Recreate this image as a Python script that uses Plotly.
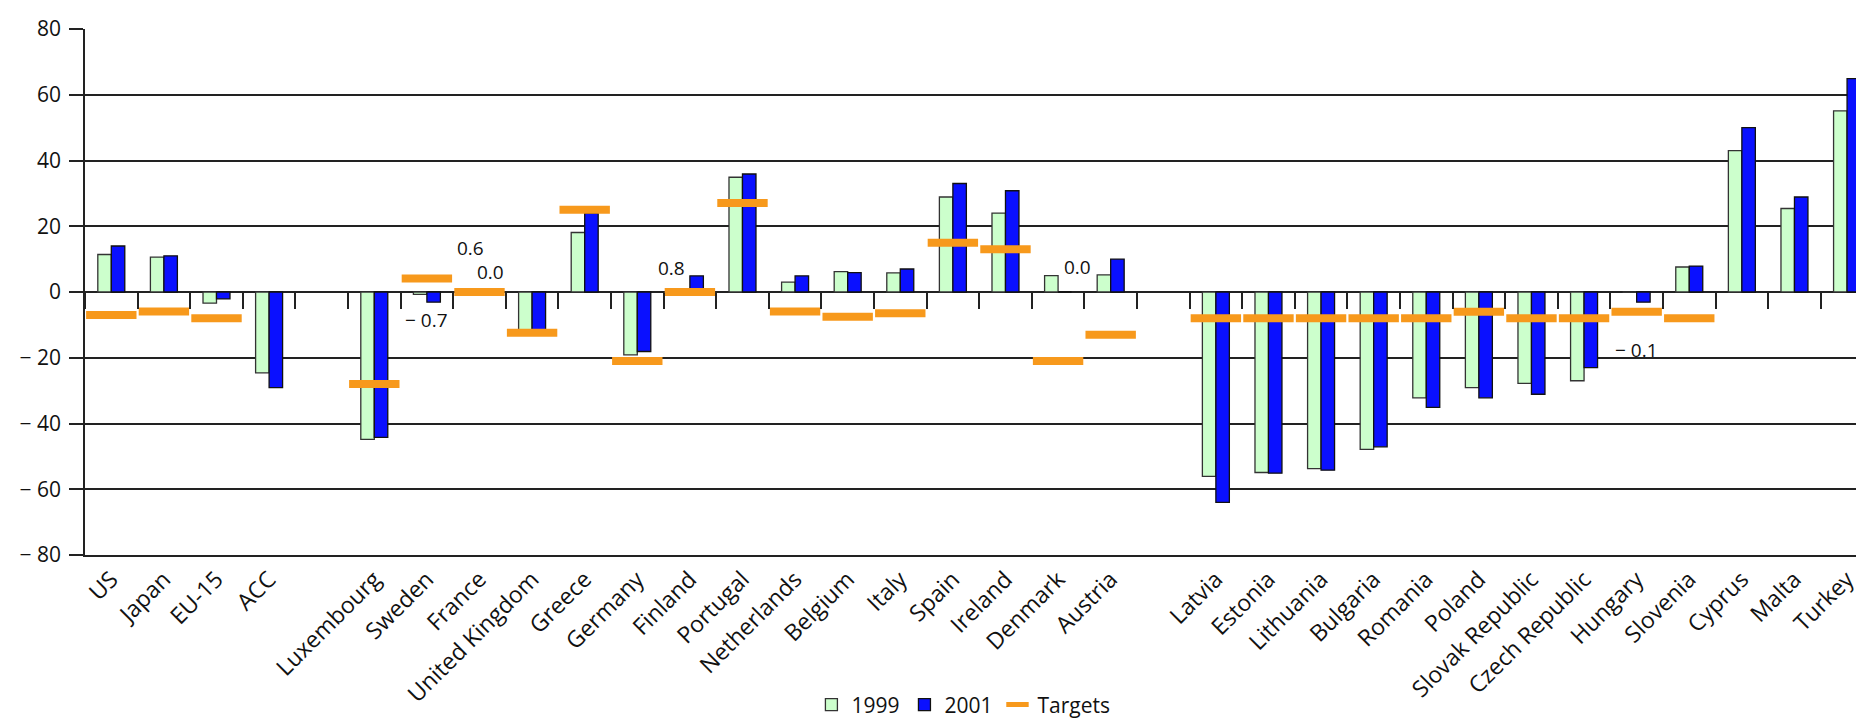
import plotly.graph_objects as go

# ---- data (None = empty separator slot / no value) ----
categories = ["US", "Japan", "EU-15", "ACC", None,
              "Luxembourg", "Sweden", "France", "United Kingdom", "Greece",
              "Germany", "Finland", "Portugal", "Netherlands", "Belgium",
              "Italy", "Spain", "Ireland", "Denmark", "Austria", None,
              "Latvia", "Estonia", "Lithuania", "Bulgaria", "Romania",
              "Poland", "Slovak Republic", "Czech Republic", "Hungary",
              "Slovenia", "Cyprus", "Malta", "Turkey"]

values_1999 = [11.4, 10.6, -3.4, -24.6, None,
               -44.8, -0.7, 0.6, -11.5, 18.1,
               -19.1, 0.8, 34.9, 3.0, 6.2,
               5.8, 28.9, 24.0, 5.0, 5.2, None,
               -56.1, -54.9, -53.7, -47.9, -32.2,
               -29.1, -27.8, -27.0, -0.1,
               7.6, 43.0, 25.4, 55.1]

values_2001 = [14.0, 11.0, -2.1, -29.1, None,
               -44.2, -3.1, 0.0, -11.6, 24.0,
               -18.1, 4.9, 35.9, 4.9, 5.9,
               7.0, 33.0, 30.8, 0.0, 10.0, None,
               -64.0, -55.1, -54.2, -47.1, -35.1,
               -32.2, -31.1, -23.0, -3.1,
               7.9, 50.0, 28.9, 64.9]

targets = [-7.0, -5.9, -8.0, None, None,
           -28.0, 4.1, 0.0, -12.4, 25.0,
           -21.0, 0.0, 27.1, -5.9, -7.5,
           -6.5, 15.0, 13.0, -21.0, -13.0, None,
           -8.0, -8.0, -8.0, -8.0, -8.0,
           -6.0, -8.0, -8.0, -6.0,
           -8.0, None, None, None]

# small value labels: (category, text, x offset in slots, y position)
value_labels = [("Sweden", "\u2212 0.7", 0.0, -8.5),
                ("France", "0.6", -0.18, 13.4),
                ("France", "0.0", 0.2, 6.0),
                ("Finland", "0.8", -0.35, 7.3),
                ("Denmark", "0.0", 0.36, 7.6),
                ("Hungary", "\u2212 0.1", 0.0, -17.7)]

y_ticks = [-80, -60, -40, -20, 0, 20, 40, 60, 80]
y_ticktext = ["\u2212 80", "\u2212 60", "\u2212 40", "\u2212 20", "0", "20", "40", "60", "80"]

# ---- styling ----
FONT = "Open Sans, Roboto, DejaVu Sans, sans-serif"
DARK = "#222222"
TXT = "#111111"
x_idx = list(range(len(categories)))

fig = go.Figure()
fig.add_trace(go.Bar(x=x_idx, y=values_1999, name="1999",
                     marker=dict(color="#CCFFCC", line=dict(color="#333333", width=1.3))))
fig.add_trace(go.Bar(x=x_idx, y=values_2001, name="2001",
                     marker=dict(color="#0A10FF", line=dict(color="#111111", width=1.3))))
fig.add_trace(go.Scatter(x=x_idx, y=targets, name="Targets", mode="markers",
                         marker=dict(symbol="line-ew", size=36,
                                     line=dict(color="#F7991C", width=8))))

for cat, txt, dx, yv in value_labels:
    fig.add_annotation(x=categories.index(cat) + dx, y=yv, text=txt, showarrow=False,
                       font=dict(family=FONT, size=19, color=TXT),
                       xref="x", yref="y")

# invisible trace on overlay axis so the boundary ticks at y=0 are drawn
boundaries = [i - 0.5 for i in range(len(categories) + 1)]
x_max = 33.17
fig.add_trace(go.Scatter(x=[boundaries[0]], y=[0], xaxis="x2", mode="markers",
                         marker=dict(opacity=0), showlegend=False, hoverinfo="skip"))

fig.update_layout(
    width=1856, height=720,
    margin=dict(l=85, r=0, t=29, b=165, autoexpand=False),
    paper_bgcolor="white", plot_bgcolor="white",
    barmode="group", bargap=0.487, bargroupgap=0,
    font=dict(family=FONT, size=21, color=TXT),
    showlegend=True,
    legend=dict(orientation="h", x=0.496, xanchor="center", y=-0.285, yanchor="middle",
                font=dict(family=FONT, size=21, color=TXT),
                itemwidth=30, traceorder="normal"),
    xaxis=dict(range=[-0.5, x_max], tickmode="array", tickvals=x_idx,
               ticktext=[c if c else "" for c in categories], tickangle=-45,
               ticks="", showgrid=False, zeroline=False, automargin=False,
               ticklabeloverflow="allow",
               showline=True, linecolor=DARK, linewidth=1.5, mirror=False,
               tickfont=dict(family=FONT, size=23, color=TXT)),
    xaxis2=dict(range=[-0.5, x_max], overlaying="x", anchor="free", position=0.5,
                side="bottom", tickmode="array", tickvals=boundaries,
                ticks="outside", ticklen=16, tickwidth=1.5, tickcolor=DARK,
                showticklabels=False, showgrid=False, zeroline=False, showline=False,
                automargin=False),
    yaxis=dict(range=[-80, 80], tickmode="array", tickvals=y_ticks, ticktext=y_ticktext,
               showgrid=True, gridcolor=DARK, gridwidth=1.5,
               zeroline=True, zerolinecolor=DARK, zerolinewidth=1.5,
               ticks="outside", ticklen=14, tickwidth=1.5, tickcolor=DARK,
               showline=True, linecolor=DARK, linewidth=1.5,
               ticklabelstandoff=4, automargin=False,
               tickfont=dict(family=FONT, size=21, color=TXT)),
)

# remove the default page margin so the figure fills the window exactly
fig.write_html("out.html",
               config={"displayModeBar": False},
               post_script="document.body.style.margin='0';document.body.style.overflow='hidden';")
